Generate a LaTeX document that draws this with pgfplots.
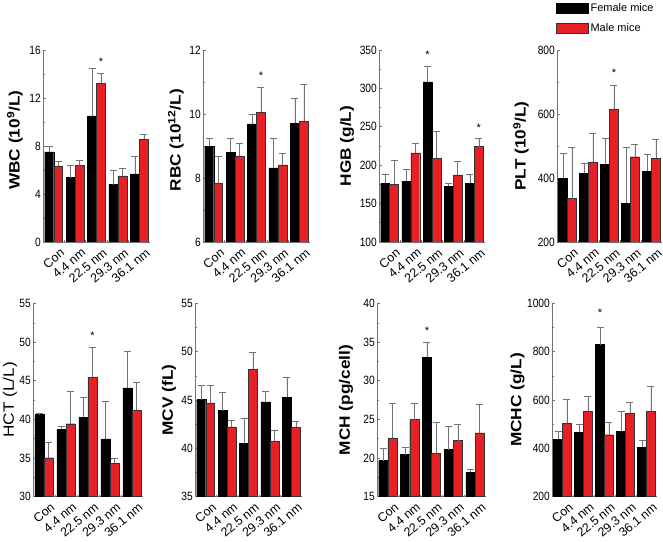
\documentclass[border=0pt]{standalone}
\usepackage{fontspec}
\setmainfont{Liberation Sans}
\newfontfamily\tickfont[FakeStretch=0.85]{Liberation Sans}
\newfontfamily\labfont[FakeStretch=1.15]{Liberation Sans}
\usepackage{pgfplots}
\usepackage{pgfplotstable}
\pgfplotsset{compat=1.18}
\definecolor{mred}{RGB}{230,32,38}

% columns: group, female mean, female error, male mean, male error
\pgfplotstableread{
x f fe m me
0 7.51 0.50 6.34 0.39
1 5.37 1.00 6.37 0.45
2 10.52 3.92 13.22 0.83
3 4.79 1.16 5.51 0.61
4 5.68 1.44 8.57 0.39
}\wbc
\pgfplotstableread{
x f fe m me
0 8.99 0.24 7.84 0.85
1 8.80 0.43 8.69 0.39
2 9.69 0.30 10.05 0.77
3 8.32 0.93 8.41 0.36
4 9.71 0.79 9.77 1.17
}\rbc
\pgfplotstableread{
x f fe m me
0 176.4 12.2 175.5 31.0
1 179.4 15.3 216.1 12.2
2 308.6 20.5 209.1 35.3
3 172.4 4.4 187.3 17.8
4 176.4 12.2 224.3 11.0
}\hgb
\pgfplotstableread{
x f fe m me
0 399.6 76.4 335.9 161.0
1 414.3 32.4 449.8 88.9
2 443.5 79.5 615.0 74.2
3 321.3 173.5 466.5 39.8
4 421.6 51.2 462.4 58.5
}\plt
\pgfplotstableread{
x f fe m me
0 40.60 0.13 35.02 2.03
1 38.69 0.39 39.43 4.24
2 40.25 2.60 45.44 3.89
3 37.48 4.80 34.33 0.64
4 44.06 4.75 41.20 3.55
}\hct
\pgfplotstableread{
x f fe m me
0 45.05 1.49 44.71 1.83
1 43.91 1.84 42.21 0.66
2 40.51 2.57 48.21 1.73
3 44.81 1.14 40.75 1.15
4 45.29 2.02 42.18 0.62
}\mcv
\pgfplotstableread{
x f fe m me
0 19.64 1.60 22.58 4.47
1 20.42 0.95 24.97 2.08
2 33.07 1.95 20.59 3.99
3 21.07 3.03 22.24 2.12
4 18.12 0.35 23.23 3.77
}\mch
\pgfplotstableread{
x f fe m me
0 436.7 33.2 504.5 96.9
1 465.7 31.9 554.3 62.3
2 829.8 73.3 456.1 52.6
3 471.3 81.6 546.0 45.7
4 404.8 26.3 554.3 103.8
}\mchc

\pgfplotsset{
  hemo/.style={
    scale only axis, anchor=south west,
    xmin=-0.5, xmax=4.5,
    axis lines*=left,
    axis line style={black!55, line width=0.8pt},
    xtick={0,...,4},
    minor xtick={0.5,1.5,2.5,3.5},
    xticklabels={Con, 4.4 nm, 22.5 nm, 29.3 nm, 36.1 nm},
    major x tick style={draw=none},
    minor x tick style={black!55, line width=0.6pt},
    x tick label style={xshift=6pt, yshift=-4pt, rotate=40, anchor=north east, inner sep=1pt,
      font=\fontsize{12.5}{13}\selectfont},
    y tick label style={font=\tickfont\fontsize{12}{13}\selectfont, inner sep=2pt},
    ytick style={black!55, line width=0.6pt},
    tick align=inside,
    major tick length=3pt, minor tick length=2pt,
    minor y tick num=1,
    /pgf/number format/assume math mode=true,
    /pgf/number format/set thousands separator={},
    ylabel style={font=\labfont\bfseries\fontsize{15}{16}\selectfont, anchor=center},
  },
  errs/.style={error bars/.cd, y dir=plus, y explicit,
    error bar style={black!55, line width=0.55pt},
    error mark options={rotate=90, black!55, line width=0.55pt, mark size=3.5pt}},
  fem/.style={ybar, bar width=0.42, bar shift=0pt, fill=black, draw=black, line width=0.4pt, errs},
  mal/.style={ybar, bar width=0.42, bar shift=0pt, fill=mred, draw=black!80, line width=0.4pt, errs},
}
\tikzset{astk/.style={font=\fontsize{11}{12}\selectfont, anchor=center, inner sep=0pt}}

\begin{document}
\begin{tikzpicture}
\path[use as bounding box] (0,0) rectangle (663pt,541pt);

% ---- top row ----
\begin{axis}[hemo, at={(43pt,299pt)}, width=107pt, height=192pt,
  ymin=0, ymax=16, ytick={0,4,...,16},
  ylabel={WBC (10\textsuperscript{9}/L)},
  ylabel style={at={([xshift=-28pt]axis description cs:0,0.53)}}]
\addplot[fem] table[x expr=\thisrow{x}-0.21, y=f, y error=fe] {\wbc};
\addplot[mal] table[x expr=\thisrow{x}+0.21, y=m, y error=me] {\wbc};
\node[astk] at (axis cs:2.21,15.0) {*};
\end{axis}

\begin{axis}[hemo, at={(203pt,299pt)}, width=107pt, height=192pt,
  ymin=6, ymax=12, ytick={6,8,10,12},
  ylabel={RBC (10\textsuperscript{12}/L)},
  ylabel style={at={([xshift=-27pt]axis description cs:0,0.53)}}]
\addplot[fem] table[x expr=\thisrow{x}-0.21, y=f, y error=fe] {\rbc};
\addplot[mal] table[x expr=\thisrow{x}+0.21, y=m, y error=me] {\rbc};
\node[astk] at (axis cs:2.21,11.2) {*};
\end{axis}

\begin{axis}[hemo, at={(379pt,299pt)}, width=106pt, height=192pt,
  ymin=100, ymax=350, ytick={100,150,...,350},
  ylabel={HGB (g/L)},
  ylabel style={at={([xshift=-32pt]axis description cs:0,0.5)}}]
\addplot[fem] table[x expr=\thisrow{x}-0.21, y=f, y error=fe] {\hgb};
\addplot[mal] table[x expr=\thisrow{x}+0.21, y=m, y error=me] {\hgb};
\node[astk] at (axis cs:1.79,344) {*};
\node[astk] at (axis cs:4.21,249) {*};
\end{axis}

\begin{axis}[hemo, at={(557pt,299pt)}, width=105pt, height=192pt,
  ymin=200, ymax=800, ytick={200,400,...,800},
  ylabel={PLT (10\textsuperscript{9}/L)},
  ylabel style={at={([xshift=-36pt]axis description cs:0,0.5)}},
  legend style={draw=none, fill=none, at={(axis description cs:-0.01,1.255)},
    anchor=north west, inner sep=0pt, row sep=7pt,
    font=\fontsize{11}{12}\selectfont,
    nodes={inner sep=2pt, anchor=west}},
  legend cell align=left]
\addlegendimage{legend image code/.code={\draw[fill=black, draw=black] (0pt,-5pt) rectangle (32pt,5pt);}}
\addlegendimage{legend image code/.code={\draw[fill=mred, draw=black!80] (0pt,-5pt) rectangle (32pt,5pt);}}
\legend{Female mice, Male mice}
\addplot[fem] table[x expr=\thisrow{x}-0.21, y=f, y error=fe] {\plt};
\addplot[mal] table[x expr=\thisrow{x}+0.21, y=m, y error=me] {\plt};
\node[astk] at (axis cs:2.21,730) {*};
\end{axis}

% ---- bottom row ----
\begin{axis}[hemo, at={(33pt,44.5pt)}, width=110pt, height=193pt,
  ymin=30, ymax=55, ytick={30,35,...,55},
  ylabel={HCT (L/L)},
  ylabel style={at={([xshift=-23pt]axis description cs:0,0.5)}, font=\labfont\fontsize{15}{16}\selectfont}]
\addplot[fem] table[x expr=\thisrow{x}-0.21, y=f, y error=fe] {\hct};
\addplot[mal] table[x expr=\thisrow{x}+0.21, y=m, y error=me] {\hct};
\node[astk] at (axis cs:2.21,50.8) {*};
\end{axis}

\begin{axis}[hemo, at={(195pt,44.5pt)}, width=107pt, height=193pt,
  ymin=35, ymax=55, ytick={35,40,...,55},
  ylabel={MCV (fL)},
  ylabel style={at={([xshift=-26pt]axis description cs:0,0.5)}}]
\addplot[fem] table[x expr=\thisrow{x}-0.21, y=f, y error=fe] {\mcv};
\addplot[mal] table[x expr=\thisrow{x}+0.21, y=m, y error=me] {\mcv};
\end{axis}

\begin{axis}[hemo, at={(377pt,44.5pt)}, width=109pt, height=193pt,
  ymin=15, ymax=40, ytick={15,20,...,40},
  ylabel={MCH (pg/cell)},
  ylabel style={at={([xshift=-31pt]axis description cs:0,0.5)}}]
\addplot[fem] table[x expr=\thisrow{x}-0.21, y=f, y error=fe] {\mch};
\addplot[mal] table[x expr=\thisrow{x}+0.21, y=m, y error=me] {\mch};
\node[astk] at (axis cs:1.79,36.5) {*};
\end{axis}

\begin{axis}[hemo, at={(552pt,44.5pt)}, width=105pt, height=193pt,
  ymin=200, ymax=1000, ytick={200,400,...,1000},
  ylabel={MCHC (g/L)},
  ylabel style={at={([xshift=-34.5pt]axis description cs:0,0.5)}}]
\addplot[fem] table[x expr=\thisrow{x}-0.21, y=f, y error=fe] {\mchc};
\addplot[mal] table[x expr=\thisrow{x}+0.21, y=m, y error=me] {\mchc};
\node[astk] at (axis cs:1.79,963) {*};
\end{axis}
\end{tikzpicture}
\end{document}
